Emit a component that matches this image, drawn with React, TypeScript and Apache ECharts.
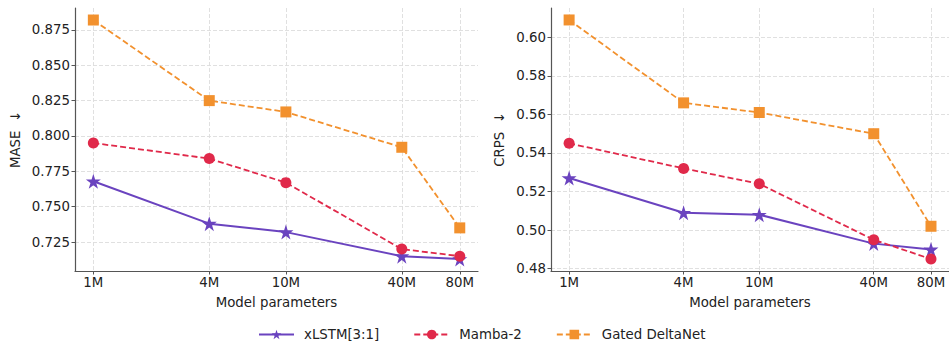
import React, { useEffect, useRef } from 'react';
import * as echarts from 'echarts';

const params = [1e6, 4e6, 1e7, 4e7, 8e7];
const paramLabels = ['1M', '4M', '10M', '40M', '80M'];
const seriesNames = ['xLSTM[3:1]', 'Mamba-2', 'Gated DeltaNet'];
const maseXlstm = [0.768, 0.738, 0.732, 0.715, 0.713];
const maseMamba = [0.795, 0.784, 0.767, 0.72, 0.715];
const maseGated = [0.882, 0.825, 0.817, 0.792, 0.735];
const crpsXlstm = [0.527, 0.509, 0.508, 0.493, 0.49];
const crpsMamba = [0.545, 0.532, 0.524, 0.495, 0.485];
const crpsGated = [0.609, 0.566, 0.561, 0.55, 0.502];
const maseTicks = [0.725, 0.75, 0.775, 0.8, 0.825, 0.85, 0.875];
const crpsTicks = [0.48, 0.5, 0.52, 0.54, 0.56, 0.58, 0.6];

const FONT = 'DejaVu Sans';
const FS = 13.33;
const SPINE = '#555555';
const TEXT = '#222222';
const GRIDC = '#dcdcdc';
const COLORS = ['#6A43BF', '#E0294A', '#F2912E'];
const STAR = 'path://M50,0 L61.2,34.5 L97.6,34.5 L68.2,55.9 L79.4,90.5 L50,69.1 L20.6,90.5 L31.8,55.9 L2.4,34.5 L38.8,34.5 Z';

function xAxisFor(gridIndex: number) {
  return {
    type: 'log',
    logBase: 10,
    gridIndex,
    min: 8.03e5,
    max: 9.95e7,
    axisLine: { show: true, onZero: false, lineStyle: { color: SPINE, width: 1.2 } },
    axisTick: { show: true, customValues: params, length: 3.5, lineStyle: { color: SPINE, width: 1 } },
    axisLabel: {
      customValues: params,
      margin: 5,
      fontFamily: FONT,
      fontSize: FS,
      color: TEXT,
      formatter: (v: number) => {
        const i = params.findIndex((p) => Math.abs(p - v) / p < 1e-4);
        return i >= 0 ? paramLabels[i] : '';
      },
    },
    splitLine: { show: true, lineStyle: { type: [4, 2], color: GRIDC, width: 0.9 } },
    minorTick: { show: false },
    minorSplitLine: { show: false },
    name: 'Model parameters',
    nameLocation: 'middle',
    nameGap: 25,
    nameTextStyle: { fontFamily: FONT, fontSize: FS, color: TEXT },
  };
}

function yAxisFor(gridIndex: number, min: number, max: number, ticks: number[], digits: number, name: string) {
  return {
    type: 'value',
    gridIndex,
    min,
    max,
    axisLine: { show: true, onZero: false, lineStyle: { color: SPINE, width: 1.2 } },
    axisTick: { show: true, customValues: ticks, length: 3.5, lineStyle: { color: SPINE, width: 1 } },
    axisLabel: {
      customValues: ticks,
      margin: 5,
      fontFamily: FONT,
      fontSize: FS,
      color: TEXT,
      formatter: (v: number) => v.toFixed(digits),
    },
    splitLine: { show: true, lineStyle: { type: [4, 2], color: GRIDC, width: 0.9 } },
    name,
    nameLocation: 'middle',
    nameGap: digits === 3 ? 53 : 45,
    nameTextStyle: { fontFamily: FONT, fontSize: FS, color: TEXT },
  };
}

function makeSeries(gridIndex: number, values: number[][]) {
  const symbols = [STAR, 'circle', 'rect'];
  const sizes = [15, 11, 11];
  const lineTypes: any[] = ['solid', [6, 3], [6, 3]];
  return values.map((vals, k) => ({
    name: seriesNames[k],
    type: 'line',
    xAxisIndex: gridIndex,
    yAxisIndex: gridIndex,
    data: params.map((p, i) => [p, vals[i]]),
    symbol: symbols[k],
    symbolSize: sizes[k],
    showAllSymbol: true,
    color: COLORS[k],
    itemStyle: { color: COLORS[k], borderWidth: 0 },
    lineStyle: { color: COLORS[k], width: k === 0 ? 2 : 1.8, type: lineTypes[k] },
    emphasis: { disabled: true },
    z: 3 + k,
  }));
}

export default function App() {
  const ref = useRef<HTMLDivElement>(null);
  useEffect(() => {
    if (!ref.current) return;
    const chart = echarts.init(ref.current, undefined, { renderer: 'svg' });
    chart.setOption({
      animation: false,
      textStyle: { fontFamily: FONT },
      grid: [
        { left: 75, top: 8, width: 403, height: 263 },
        { left: 551, top: 8, width: 403, height: 263 },
      ],
      xAxis: [xAxisFor(0), xAxisFor(1)],
      yAxis: [
        yAxisFor(0, 0.7045, 0.8905, maseTicks, 3, 'MASE  ↓'),
        yAxisFor(1, 0.4788, 0.6152, crpsTicks, 2, 'CRPS  ↓'),
      ],
      legend: {
        data: seriesNames,
        left: 258,
        top: 328,
        padding: 0,
        itemWidth: 35,
        itemHeight: 12,
        itemGap: 34,
        textStyle: { fontFamily: FONT, fontSize: FS, color: TEXT, padding: [0, 0, 0, 5] },
      },
      series: [
        ...makeSeries(0, [maseXlstm, maseMamba, maseGated]),
        ...makeSeries(1, [crpsXlstm, crpsMamba, crpsGated]),
      ],
    });
    return () => chart.dispose();
  }, []);
  return (
    <div
      ref={ref}
      style={{ position: 'absolute', left: 0, top: 0, width: 949, height: 341, background: '#fff' }}
    />
  );
}
